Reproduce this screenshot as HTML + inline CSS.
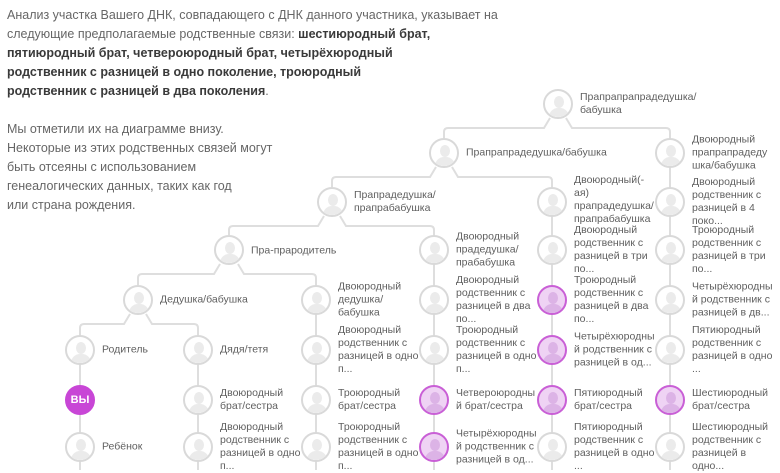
<!DOCTYPE html>
<html><head><meta charset="utf-8"><style>
body{margin:0;width:780px;height:470px;overflow:hidden;background:#fff;font-family:"Liberation Sans",sans-serif;position:relative}
.p{position:absolute;left:7px;font-size:12.5px;color:#666;line-height:19px;white-space:nowrap}
.p b{color:#3a3a3a}
.c{position:absolute;width:30px;height:30px;border:2px solid #d9d9d9;border-radius:50%;background:#fff;overflow:hidden;box-sizing:border-box}
.c::before{content:"";position:absolute;left:9px;top:5px;width:10px;height:12px;border-radius:50%;background:#ebebeb}
.c::after{content:"";position:absolute;left:4px;top:17px;width:20px;height:16px;border-radius:9px 9px 0 0;background:#ebebeb}
.c.h{border-color:#c95fd6;background:#efd3f4}
.c.h::before,.c.h::after{background:#dcb3e6}
.c.y{background:#c846d6;border-color:#c846d6}
.c.y::before,.c.y::after{display:none}
.c.y span{position:absolute;left:0;right:0;top:7px;text-align:center;color:#fff;font-weight:bold;font-size:11px}
.l{position:absolute;font-size:10.5px;color:#5f5f5f;line-height:13px;transform:translateY(-50%);white-space:nowrap}
</style></head><body>
<div class="p" style="top:6px">Анализ участка Вашего ДНК, совпадающего с ДНК данного участника, указывает на<br>следующие предполагаемые родственные связи: <b>шестиюродный брат,</b><br><b>пятиюродный брат, четвероюродный брат, четырёхюродный</b><br><b>родственник с разницей в одно поколение, троюродный</b><br><b>родственник с разницей в два поколения</b>.</div>
<div class="p" style="top:120px">Мы отметили их на диаграмме внизу.<br>Некоторые из этих родственных связей могут<br>быть отсеяны с использованием<br>генеалогических данных, таких как год<br>или страна рождения.</div>
<svg style="position:absolute;left:0;top:0" width="780" height="470" fill="none" stroke="#dedede" stroke-width="2">
<path d="M80,335 V470"/><path d="M198,335 V470"/><path d="M316,285 V470"/><path d="M434,235 V470"/><path d="M552,185 V470"/><path d="M670,135 V470"/>
<path d="M80,335 V328 Q80,324 84,324 H124 L130,314 M146,314 L152,324 H194 Q198,324 198,328 V335"/>
<path d="M138,285 V278 Q138,274 142,274 H214 L220,264 M238,264 L244,274 H312 Q316,274 316,278 V285"/>
<path d="M229,235 V230 Q229,226 233,226 H318 L324,216 M340,216 L346,226 H430 Q434,226 434,230 V235"/>
<path d="M332,187 V181 Q332,177 336,177 H430 L436,167 M452,167 L458,177 H548 Q552,177 552,181 V185"/>
<path d="M444,138 V132 Q444,128 448,128 H544 L550,118 M566,118 L572,128 H666 Q670,128 670,132 V135"/>
</svg>
<div class="c" style="left:543px;top:89px"></div><div class="l" style="left:580px;top:104px">Прапрапрапрадедушка/<br>бабушка</div>
<div class="c" style="left:429px;top:138px"></div><div class="l" style="left:466px;top:153px">Прапрапрадедушка/бабушка</div>
<div class="c" style="left:317px;top:187px"></div><div class="l" style="left:354px;top:202px">Прапрадедушка/<br>прапрабабушка</div>
<div class="c" style="left:214px;top:235px"></div><div class="l" style="left:251px;top:251px">Пра-прародитель</div>
<div class="c" style="left:123px;top:285px"></div><div class="l" style="left:160px;top:300px">Дедушка/бабушка</div>

<div class="c" style="left:65px;top:335px"></div><div class="l" style="left:102px;top:350px">Родитель</div>
<div class="c y" style="left:65px;top:385px"><span>ВЫ</span></div>
<div class="c" style="left:65px;top:432px"></div><div class="l" style="left:102px;top:447px">Ребёнок</div>

<div class="c" style="left:183px;top:335px"></div><div class="l" style="left:220px;top:350px">Дядя/тетя</div>
<div class="c" style="left:183px;top:385px"></div><div class="l" style="left:220px;top:400px">Двоюродный<br>брат/сестра</div>
<div class="c" style="left:183px;top:432px"></div><div class="l" style="left:220px;top:447px">Двоюродный<br>родственник с<br>разницей в одно<br>п...</div>

<div class="c" style="left:301px;top:285px"></div><div class="l" style="left:338px;top:300px">Двоюродный<br>дедушка/<br>бабушка</div>
<div class="c" style="left:301px;top:335px"></div><div class="l" style="left:338px;top:350px">Двоюродный<br>родственник с<br>разницей в одно<br>п...</div>
<div class="c" style="left:301px;top:385px"></div><div class="l" style="left:338px;top:400px">Троюродный<br>брат/сестра</div>
<div class="c" style="left:301px;top:432px"></div><div class="l" style="left:338px;top:447px">Троюродный<br>родственник с<br>разницей в одно<br>п...</div>

<div class="c" style="left:419px;top:235px"></div><div class="l" style="left:456px;top:250px">Двоюродный<br>прадедушка/<br>прабабушка</div>
<div class="c" style="left:419px;top:285px"></div><div class="l" style="left:456px;top:300px">Двоюродный<br>родственник с<br>разницей в два<br>по...</div>
<div class="c" style="left:419px;top:335px"></div><div class="l" style="left:456px;top:350px">Троюродный<br>родственник с<br>разницей в одно<br>п...</div>
<div class="c h" style="left:419px;top:385px"></div><div class="l" style="left:456px;top:400px">Четвероюродны<br>й брат/сестра</div>
<div class="c h" style="left:419px;top:432px"></div><div class="l" style="left:456px;top:447px">Четырёхюродны<br>й родственник с<br>разницей в од...</div>

<div class="c" style="left:537px;top:187px"></div><div class="l" style="left:574px;top:200px">Двоюродный(-<br>ая)<br>прапрадедушка/<br>прапрабабушка</div>
<div class="c" style="left:537px;top:235px"></div><div class="l" style="left:574px;top:250px">Двоюродный<br>родственник с<br>разницей в три<br>по...</div>
<div class="c h" style="left:537px;top:285px"></div><div class="l" style="left:574px;top:300px">Троюродный<br>родственник с<br>разницей в два<br>по...</div>
<div class="c h" style="left:537px;top:335px"></div><div class="l" style="left:574px;top:350px">Четырёхюродны<br>й родственник с<br>разницей в од...</div>
<div class="c h" style="left:537px;top:385px"></div><div class="l" style="left:574px;top:400px">Пятиюродный<br>брат/сестра</div>
<div class="c" style="left:537px;top:432px"></div><div class="l" style="left:574px;top:447px">Пятиюродный<br>родственник с<br>разницей в одно<br>...</div>

<div class="c" style="left:655px;top:138px"></div><div class="l" style="left:692px;top:153px">Двоюродный<br>прапрапрадеду<br>шка/бабушка</div>
<div class="c" style="left:655px;top:187px"></div><div class="l" style="left:692px;top:202px">Двоюродный<br>родственник с<br>разницей в 4<br>поко...</div>
<div class="c" style="left:655px;top:235px"></div><div class="l" style="left:692px;top:250px">Троюродный<br>родственник с<br>разницей в три<br>по...</div>
<div class="c" style="left:655px;top:285px"></div><div class="l" style="left:692px;top:300px">Четырёхюродны<br>й родственник с<br>разницей в дв...</div>
<div class="c" style="left:655px;top:335px"></div><div class="l" style="left:692px;top:350px">Пятиюродный<br>родственник с<br>разницей в одно<br>...</div>
<div class="c h" style="left:655px;top:385px"></div><div class="l" style="left:692px;top:400px">Шестиюродный<br>брат/сестра</div>
<div class="c" style="left:655px;top:432px"></div><div class="l" style="left:692px;top:447px">Шестиюродный<br>родственник с<br>разницей в<br>одно...</div>
</body></html>
